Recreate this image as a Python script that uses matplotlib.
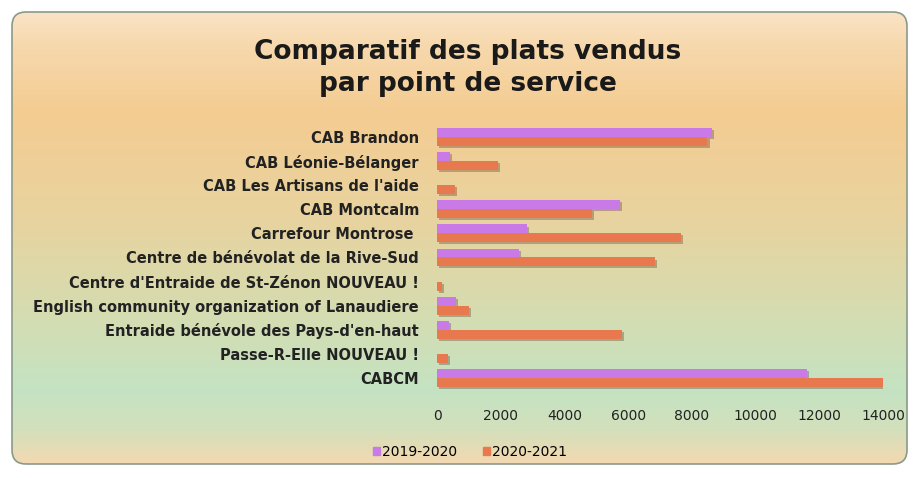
import numpy as np
import matplotlib
matplotlib.use('Agg')
import matplotlib.pyplot as plt
from matplotlib.colors import LinearSegmentedColormap
from matplotlib.patches import FancyBboxPatch, Patch
import matplotlib.patheffects as pe

# data
points = ['CAB Brandon', 'CAB Léonie-Bélanger', "CAB Les Artisans de l'aide",
          'CAB Montcalm', 'Carrefour Montrose ', 'Centre de bénévolat de la Rive-Sud',
          "Centre d'Entraide de St-Zénon NOUVEAU !",
          'English community organization of Lanaudiere',
          "Entraide bénévole des Pays-d'en-haut", 'Passe-R-Elle NOUVEAU !', 'CABCM']
v2019 = [8640, 400, 0, 5730, 2820, 2570, 0, 600, 380, 0, 11620]
v2020 = [8490, 1900, 560, 4850, 7670, 6830, 150, 1000, 5800, 340, 14000]
xticks = [0, 2000, 4000, 6000, 8000, 10000, 12000, 14000]

c19 = '#c97ae6'
c20 = '#e8784e'

W, H = 919, 478
fig = plt.figure(figsize=(W / 100, H / 100), dpi=100)
fig.patch.set_facecolor('white')

# background panel with vertical gradient
bg = fig.add_axes([0, 0, 1, 1], zorder=-2)
bg.set_xlim(0, W)
bg.set_ylim(H, 0)
bg.axis('off')
stops = [(0.0, '#fbe8cf'), (0.09, '#f7d9ae'), (0.23, '#f4cc92'), (0.45, '#e9d39e'),
         (0.65, '#d6dcb0'), (0.82, '#c4e3c3'), (0.9, '#d3e0bb'), (0.97, '#f3d9b1'),
         (1.0, '#f8e0bf')]
cmap = LinearSegmentedColormap.from_list('bg', stops)
grad = np.linspace(0, 1, 256).reshape(-1, 1)
panel = FancyBboxPatch((12, 12), W - 24, H - 26, boxstyle='round,pad=0,rounding_size=14',
                       facecolor='none', edgecolor='#8a9a8a', linewidth=1.2, zorder=3)
bg.add_patch(panel)
im = bg.imshow(grad, cmap=cmap, extent=[0, W, H, 0], aspect='auto', zorder=1)
im.set_clip_path(panel)

# bars
ax = fig.add_axes([437 / W, 1 - 390 / H, (883 - 437) / W, (390 - 125) / H])
ax.patch.set_alpha(0)
y = np.arange(len(points))
h = 0.37
shadow = [pe.SimplePatchShadow(offset=(1.5, -1.5), alpha=0.3), pe.Normal()]
b1 = ax.barh(y - h / 2, v2019, height=h, color=c19)
b2 = ax.barh(y + h / 2, v2020, height=h, color=c20)
for b in list(b1) + list(b2):
    b.set_path_effects(shadow)
ax.set_ylim(len(points) - 0.5, -0.5)
ax.set_xlim(0, 14000)
ax.set_yticks(y)
ax.set_yticklabels(points, fontsize=10.5, fontweight='bold', color='#222222')
ax.set_xticks(xticks)
ax.set_xticklabels([str(t) for t in xticks], fontsize=10, color='#222222')
ax.tick_params(axis='y', length=0, pad=13)
ax.tick_params(axis='x', length=0, pad=14)
for s in ax.spines.values():
    s.set_visible(False)

fig.text(468 / W, 1 - 68 / H, 'Comparatif des plats vendus\npar point de service',
         ha='center', va='center', fontsize=19, fontweight='bold', color='#1a1a1a',
         linespacing=1.3)

handles = [Patch(color=c19, label='2019-2020'), Patch(color=c20, label='2020-2021')]
fig.legend(handles=handles, loc='center', bbox_to_anchor=(470 / W, 1 - 452 / H),
           ncol=2, frameon=False, fontsize=10, handlelength=0.5, handleheight=0.5,
           handletextpad=0.2, columnspacing=1.8)

fig.savefig('out.png', dpi=100)
